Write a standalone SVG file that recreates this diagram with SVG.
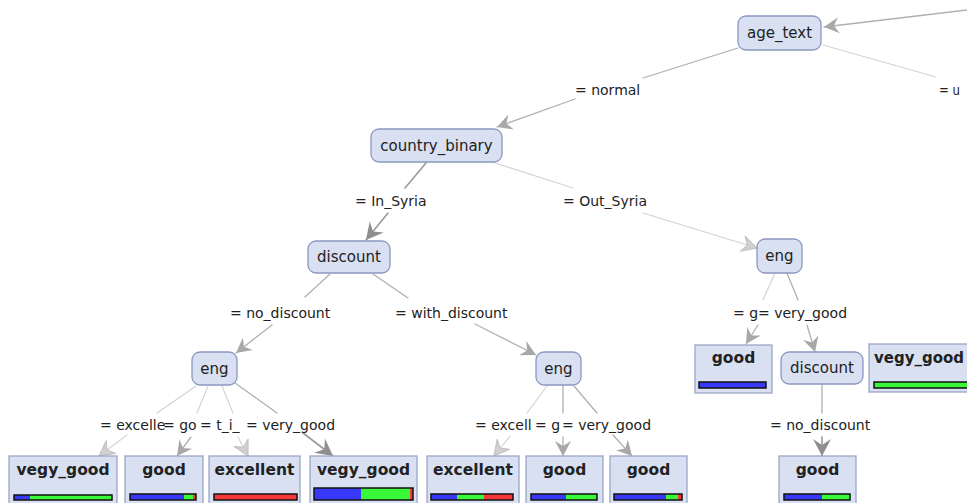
<svg xmlns="http://www.w3.org/2000/svg" width="967" height="503" viewBox="0 0 967 503">
<style>
.bg{fill:#ffffff}
.node rect{fill:#d8e0f2;stroke:#8a98c0;stroke-width:1.3}
.node text{font-family:"DejaVu Sans","Liberation Sans",sans-serif;font-size:15px;fill:#222;text-anchor:middle}
.leaf rect.box{fill:#d8e0f2;stroke:#9aa7c8;stroke-width:1.3}
.leaf text{font-family:"DejaVu Sans","Liberation Sans",sans-serif;font-size:15.5px;font-weight:bold;fill:#222;text-anchor:middle}
.bar{fill:none;stroke:#111;stroke-width:1.5}
.b{fill:#3838f8}.g{fill:#38f838}.r{fill:#f83838}
.e{fill:none;stroke-linecap:round}
.d{stroke:#9a9a9a;stroke-width:1.6}
.m{stroke:#b0b0b0;stroke-width:1.3}
.l{stroke:#d4d4d4;stroke-width:1.2}
.lab{font-family:"DejaVu Sans","Liberation Sans",sans-serif;font-size:14px;fill:#222}
</style>
<defs>
<marker id="ad" markerUnits="userSpaceOnUse" markerWidth="20" markerHeight="18" refX="17" refY="9" orient="auto" overflow="visible">
<path d="M17,9 L0,0 L6,9 L0,18 Z" fill="#8e8e8e"/>
</marker>
<marker id="am" markerUnits="userSpaceOnUse" markerWidth="18" markerHeight="16" refX="15" refY="8" orient="auto" overflow="visible">
<path d="M15,8 L0,0 L5,8 L0,16 Z" fill="#a8a8a8"/>
</marker>
<marker id="al" markerUnits="userSpaceOnUse" markerWidth="18" markerHeight="16" refX="15" refY="8" orient="auto" overflow="visible">
<path d="M15,8 L0,0 L5,8 L0,16 Z" fill="#d0d0d0" stroke="#b8b8b8" stroke-width="0.8"/>
</marker>
</defs>
<rect class="bg" x="0" y="0" width="967" height="503"/>
<g id="connectors">
<path class="e m" d="M967,10 L824,27" marker-end="url(#am)"/>
<path class="e l" d="M823,45 L936,77"/>
<path class="e m" d="M738,48 L643,78"/>
<path class="e m" d="M575,99 L497,127" marker-end="url(#am)"/>
<path class="e d" d="M426,163 L405,188"/>
<path class="e d" d="M388,213 L366,240" marker-end="url(#ad)"/>
<path class="e l" d="M492,162 L573,188"/>
<path class="e l" d="M643,213 L757,248" marker-end="url(#al)"/>
<path class="e m" d="M330,274 L305,297"/>
<path class="e m" d="M272,325 L236,353" marker-end="url(#am)"/>
<path class="e m" d="M373,274 L408,298"/>
<path class="e m" d="M475,324 L536,355" marker-end="url(#am)"/>
<path class="e l" d="M196,386 L157,413"/>
<path class="e l" d="M127,435 L99,456" marker-end="url(#al)"/>
<path class="e l" d="M208,386 L197,413"/>
<path class="e m" d="M191,437 L177,456" marker-end="url(#am)"/>
<path class="e l" d="M222,386 L233,413"/>
<path class="e l" d="M238,437 L248,456" marker-end="url(#al)"/>
<path class="e m" d="M235,383 L277,413"/>
<path class="e d" d="M303,433 L333,456" marker-end="url(#ad)"/>
<path class="e l" d="M547,386 L527,413"/>
<path class="e l" d="M510,436 L494,456" marker-end="url(#al)"/>
<path class="e m" d="M563,386 L563,413"/>
<path class="e m" d="M563,437 L563,456" marker-end="url(#am)"/>
<path class="e m" d="M574,386 L597,413"/>
<path class="e m" d="M613,435 L632,456" marker-end="url(#am)"/>
<path class="e l" d="M775,273 L763,300"/>
<path class="e m" d="M758,325 L746,344" marker-end="url(#am)"/>
<path class="e m" d="M787,273 L798,300"/>
<path class="e m" d="M807,325 L815,352" marker-end="url(#am)"/>
<path class="e m" d="M822,384 L822,413"/>
<path class="e d" d="M822,437 L822,456" marker-end="url(#ad)"/>
<text class="lab" x="575" y="95">= normal</text>
<text class="lab" x="939" y="95" textLength="21" lengthAdjust="spacingAndGlyphs">= u</text>
<text class="lab" x="355" y="206">= In_Syria</text>
<text class="lab" x="563" y="206">= Out_Syria</text>
<text class="lab" x="230" y="318">= no_discount</text>
<text class="lab" x="395" y="318">= with_discount</text>
<text class="lab" x="100" y="430">= excelle</text>
<text class="lab" x="163" y="430">= go</text>
<text class="lab" x="200" y="430">= t_i_</text>
<text class="lab" x="246" y="430">= very_good</text>
<text class="lab" x="475" y="430">= excell</text>
<text class="lab" x="535" y="430">= g</text>
<text class="lab" x="562" y="430">= very_good</text>
<text class="lab" x="733" y="318">= g</text>
<text class="lab" x="758" y="318">= very_good</text>
<text class="lab" x="770" y="430">= no_discount</text>
</g>
<g id="n_age_text" class="node"><rect x="738" y="16" width="83" height="34" rx="8"/><text x="779.5" y="38">age_text</text></g>
<g id="n_country_binary" class="node"><rect x="371" y="129" width="131" height="33" rx="8"/><text x="436.5" y="151">country_binary</text></g>
<g id="n_discount1" class="node"><rect x="308" y="241" width="82" height="32" rx="8"/><text x="349" y="262">discount</text></g>
<g id="n_eng_out" class="node"><rect x="757" y="239" width="45" height="34" rx="8"/><text x="779.5" y="261">eng</text></g>
<g id="n_eng_no" class="node"><rect x="192" y="352" width="45" height="33" rx="8"/><text x="214.5" y="374">eng</text></g>
<g id="n_eng_with" class="node"><rect x="536" y="352" width="45" height="33" rx="8"/><text x="558.5" y="374">eng</text></g>
<g id="n_discount2" class="node"><rect x="781" y="352" width="82" height="32" rx="8"/><text x="822" y="373">discount</text></g>
<g id="l_vegy_good1" class="leaf"><rect class="box" x="9" y="456" width="108" height="60"/><text x="63" y="475">vegy_good</text>
<rect class="b" x="14" y="495" width="16" height="5"/><rect class="g" x="30" y="495" width="82" height="5"/><rect class="bar" x="14" y="495" width="98" height="5"/></g>
<g id="l_good1" class="leaf"><rect class="box" x="125" y="456" width="78" height="60"/><text x="164" y="475">good</text>
<rect class="b" x="130" y="494" width="54" height="6"/><rect class="g" x="184" y="494" width="9" height="6"/><rect class="r" x="193" y="494" width="3" height="6"/><rect class="bar" x="130" y="494" width="66" height="6"/></g>
<g id="l_excellent1" class="leaf"><rect class="box" x="209" y="456" width="91" height="60"/><text x="254.5" y="475">excellent</text>
<rect class="r" x="214" y="494" width="83" height="6"/><rect class="bar" x="214" y="494" width="83" height="6"/></g>
<g id="l_vegy_good2" class="leaf"><rect class="box" x="310" y="456" width="107" height="60"/><text x="363.5" y="475">vegy_good</text>
<rect class="b" x="314" y="488" width="47" height="12"/><rect class="g" x="361" y="488" width="49" height="12"/><rect class="r" x="410" y="488" width="3" height="12"/><rect class="bar" x="314" y="488" width="99" height="12"/></g>
<g id="l_excellent2" class="leaf"><rect class="box" x="427" y="456" width="92" height="60"/><text x="473" y="475">excellent</text>
<rect class="b" x="431" y="494" width="26" height="6"/><rect class="g" x="457" y="494" width="27" height="6"/><rect class="r" x="484" y="494" width="29" height="6"/><rect class="bar" x="431" y="494" width="82" height="6"/></g>
<g id="l_good2" class="leaf"><rect class="box" x="526" y="456" width="77" height="60"/><text x="564.5" y="475">good</text>
<rect class="b" x="531" y="494" width="35" height="6"/><rect class="g" x="566" y="494" width="31" height="6"/><rect class="bar" x="531" y="494" width="66" height="6"/></g>
<g id="l_good3" class="leaf"><rect class="box" x="610" y="456" width="77" height="60"/><text x="648.5" y="475">good</text>
<rect class="b" x="614" y="494" width="52" height="6"/><rect class="g" x="666" y="494" width="12" height="6"/><rect class="r" x="678" y="494" width="4" height="6"/><rect class="bar" x="614" y="494" width="68" height="6"/></g>
<g id="l_good_out" class="leaf"><rect class="box" x="695" y="345" width="77" height="48"/><text x="733.5" y="363">good</text>
<rect class="b" x="699" y="382" width="67" height="6"/><rect class="bar" x="699" y="382" width="67" height="6"/></g>
<g id="l_vegy_good3" class="leaf"><rect class="box" x="869" y="344" width="108" height="48"/><text x="874" y="363" style="text-anchor:start" textLength="90" lengthAdjust="spacingAndGlyphs">vegy_good</text>
<rect class="g" x="874" y="382" width="98" height="6"/><rect class="bar" x="874" y="382" width="98" height="6"/></g>
<g id="l_good4" class="leaf"><rect class="box" x="779" y="456" width="77" height="60"/><text x="817.5" y="475">good</text>
<rect class="b" x="784" y="494" width="38" height="6"/><rect class="g" x="822" y="494" width="28" height="6"/><rect class="bar" x="784" y="494" width="66" height="6"/></g>
</svg>
